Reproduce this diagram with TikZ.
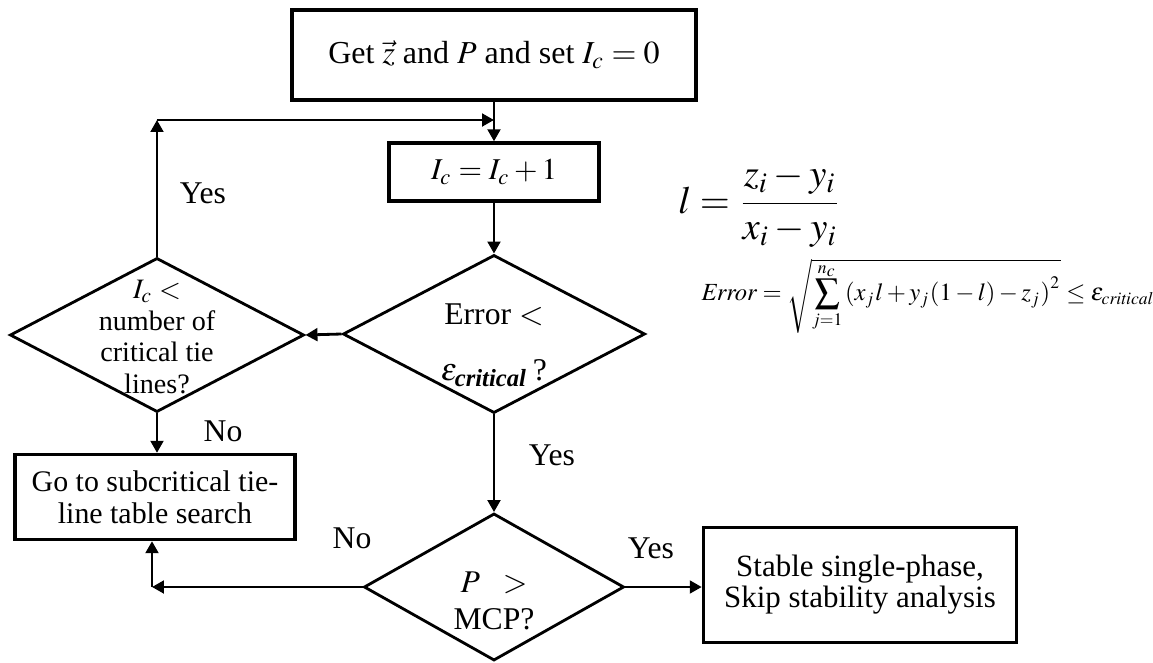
\documentclass[tikz,border=0pt]{standalone}
\usepackage{amsmath}
\usepackage{mathptmx}
\usepackage[no-math]{fontspec}
\setmainfont{Liberation Serif}
\usetikzlibrary{arrows.meta,shapes.geometric,positioning}

\begin{document}
\begin{tikzpicture}[
    x=0.01cm,y=-0.01cm,
    font=\fontsize{8.5}{10.5}\selectfont,
    stepbox/.style={draw,line width=0.95pt,align=center,inner sep=0pt},
    decision/.style={diamond,draw,line width=0.8pt,inner sep=0pt},
    question/.style={align=center,inner sep=0pt},
    flow/.style={-{Triangle[length=3.4pt,width=3.6pt]},line width=0.8pt},
    answer/.style={font=\fontsize{9}{11}\selectfont}
  ]
    \useasboundingbox (0,0) rectangle (1153,663);

    % main column
    \node[stepbox,minimum width=4.04cm,minimum height=0.9cm,
      font=\fontsize{9.1}{12}\selectfont] (start) at (494,55)
      {Get $\vec{z}$ and $P$ and set $I_c = 0$};
    \node[stepbox,minimum width=2.1cm,minimum height=0.58cm,
      font=\fontsize{8.6}{10}\selectfont] (ic) at (494,172) {$I_c = I_c + 1$};
    \node[decision,minimum width=3.02cm,minimum height=1.58cm] (err) at (494,334) {};
    \node[question,font=\fontsize{9}{11}\selectfont] (errq) at (494,345)
      {Error $<$\\[5pt] $\varepsilon_{\text{\bfseries\itshape critical}}$\,?};
    \node[decision,minimum width=2.6cm,minimum height=1.47cm] (mcp) at (494,587) {};
    \node[question,font=\fontsize{9}{10.5}\selectfont] (mcpq) at (494,601)
      {$P\ \ >$\\MCP?};
    \node[stepbox,minimum width=3.13cm,minimum height=1.15cm,
      font=\fontsize{8.8}{8.8}\selectfont] (stable) at (860,585)
      {Stable single-phase,\\Skip stability analysis};

    % left column
    \node[decision,minimum width=2.94cm,minimum height=1.54cm] (lt) at (157,335) {};
    \node[question,font=\fontsize{8}{9}\selectfont] (ltq) at (157,337)
      {$I_c <$\\number of\\critical tie\\lines?};
    \node[stepbox,minimum width=2.8cm,minimum height=0.85cm,
      font=\fontsize{8.5}{9}\selectfont] (sub) at (155,497)
      {Go to subcritical tie-\\line table search};

    \coordinate (join) at (494,120);
    \coordinate (loopturn) at (157,120);
    \coordinate (backturn) at (152,587);

    \draw[flow] (start) -- (ic);
    \draw[flow] (ic) -- (err);
    \draw[flow] (err.west) -- (lt.east);
    \draw[flow] (lt.north) -- (loopturn);
    \draw[flow] (loopturn) -- (join);
    \draw[flow] (lt.south) -- (sub.north -| lt.south);
    \draw[flow] (err.south) -- (mcp.north);
    \draw[flow] (mcp.west) -- (backturn);
    \draw[flow] (backturn) -- (sub.south -| backturn);
    \draw[flow] (mcp.east) -- (mcp.east -| stable.west);

    \node[answer] (yesloop) at (203,193) {Yes};
    \node[answer] (nolt) at (223,431) {No};
    \node[answer] (yeserr) at (552,455) {Yes};
    \node[answer] (nomcp) at (352,538) {No};
    \node[answer] (yesmcp) at (651,548) {Yes};

    % formulas
    \node[font=\fontsize{11}{13}\selectfont,inner sep=1pt] (ratio) at (760,206)
      {$l = \dfrac{z_i - y_i}{x_i - y_i}$};
    \node[font=\fontsize{7}{8}\selectfont,inner sep=1pt] (errdef) at (928,296)
      {$\mathit{Error} = \sqrt{\displaystyle\sum_{j=1}^{n_c}
        \left(x_j l + y_j (1 - l) - z_j\right)^2} \le \varepsilon_{\mathit{critical}}$};
  \end{tikzpicture}
\end{document}
